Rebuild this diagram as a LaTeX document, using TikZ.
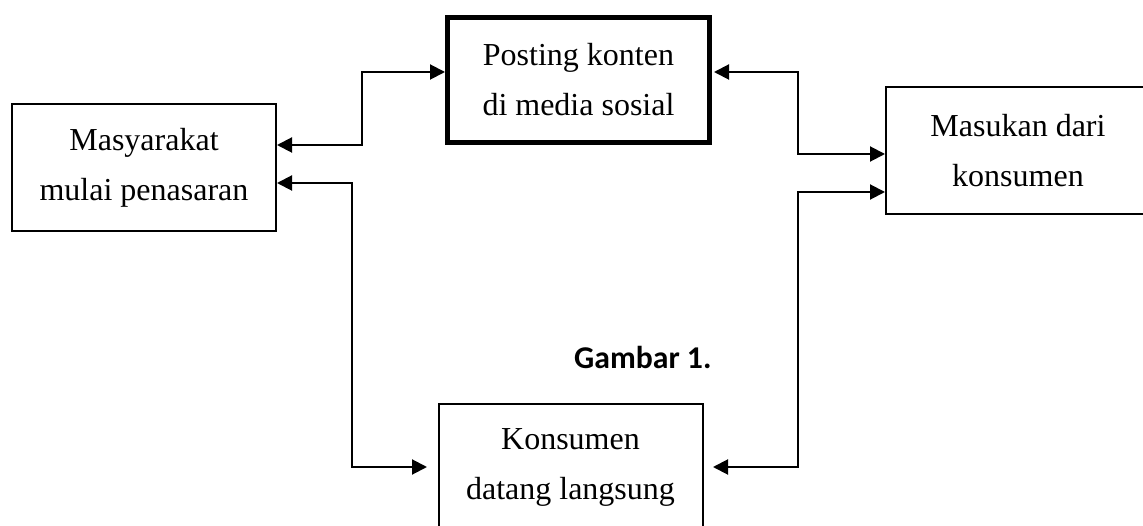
\documentclass[tikz,border=0pt]{standalone}
\usepackage{fontspec}
\setmainfont{Liberation Serif}
\newfontfamily\capfont{Carlito}
\usetikzlibrary{arrows.meta}
\begin{document}
\begin{tikzpicture}[x=1pt,y=-1pt,
  box/.style={draw=black,line width=2pt,rectangle,inner sep=0pt,align=center,
    minimum width=264pt,minimum height=127pt,
    font=\fontsize{32}{50}\selectfont},
  thickbox/.style={box,line width=4.5pt,minimum width=262pt,minimum height=125pt},
  conn/.style={line width=2pt,>={Triangle[length=15pt,width=15pt]},<->}]
\clip (0,0) rectangle (1143,526);
\fill[white] (0,0) rectangle (1143,526);
\node[box] (mas) at (144,167.5) {Masyarakat\\mulai penasaran};
\node[thickbox] (pos) at (578.5,80) {Posting konten\\di media sosial};
\node[box] (msk) at (1018,150.5) {Masukan dari\\konsumen};
\node[box] (kon) at (570.5,467.5) {Konsumen\\datang langsung};
\node[anchor=west,inner sep=0pt,font=\capfont\bfseries\fontsize{31.7}{38}\selectfont] (gam) at (574,357) {Gambar 1.};
% connector points
\coordinate (a1) at (277,145);
\coordinate (a2) at (445,72);
\coordinate (b1) at (277,183);
\coordinate (b2) at (427,467);
\coordinate (c1) at (714,72);
\coordinate (c2) at (885,154);
\coordinate (d1) at (885,192);
\coordinate (d2) at (713,467);
\draw[conn] (a1) -- (362,145) -- (362,72) -- (a2);
\draw[conn] (b1) -- (352,183) -- (352,467) -- (b2);
\draw[conn] (c1) -- (798,72) -- (798,154) -- (c2);
\draw[conn] (d1) -- (798,192) -- (798,467) -- (d2);
\end{tikzpicture}
\end{document}
